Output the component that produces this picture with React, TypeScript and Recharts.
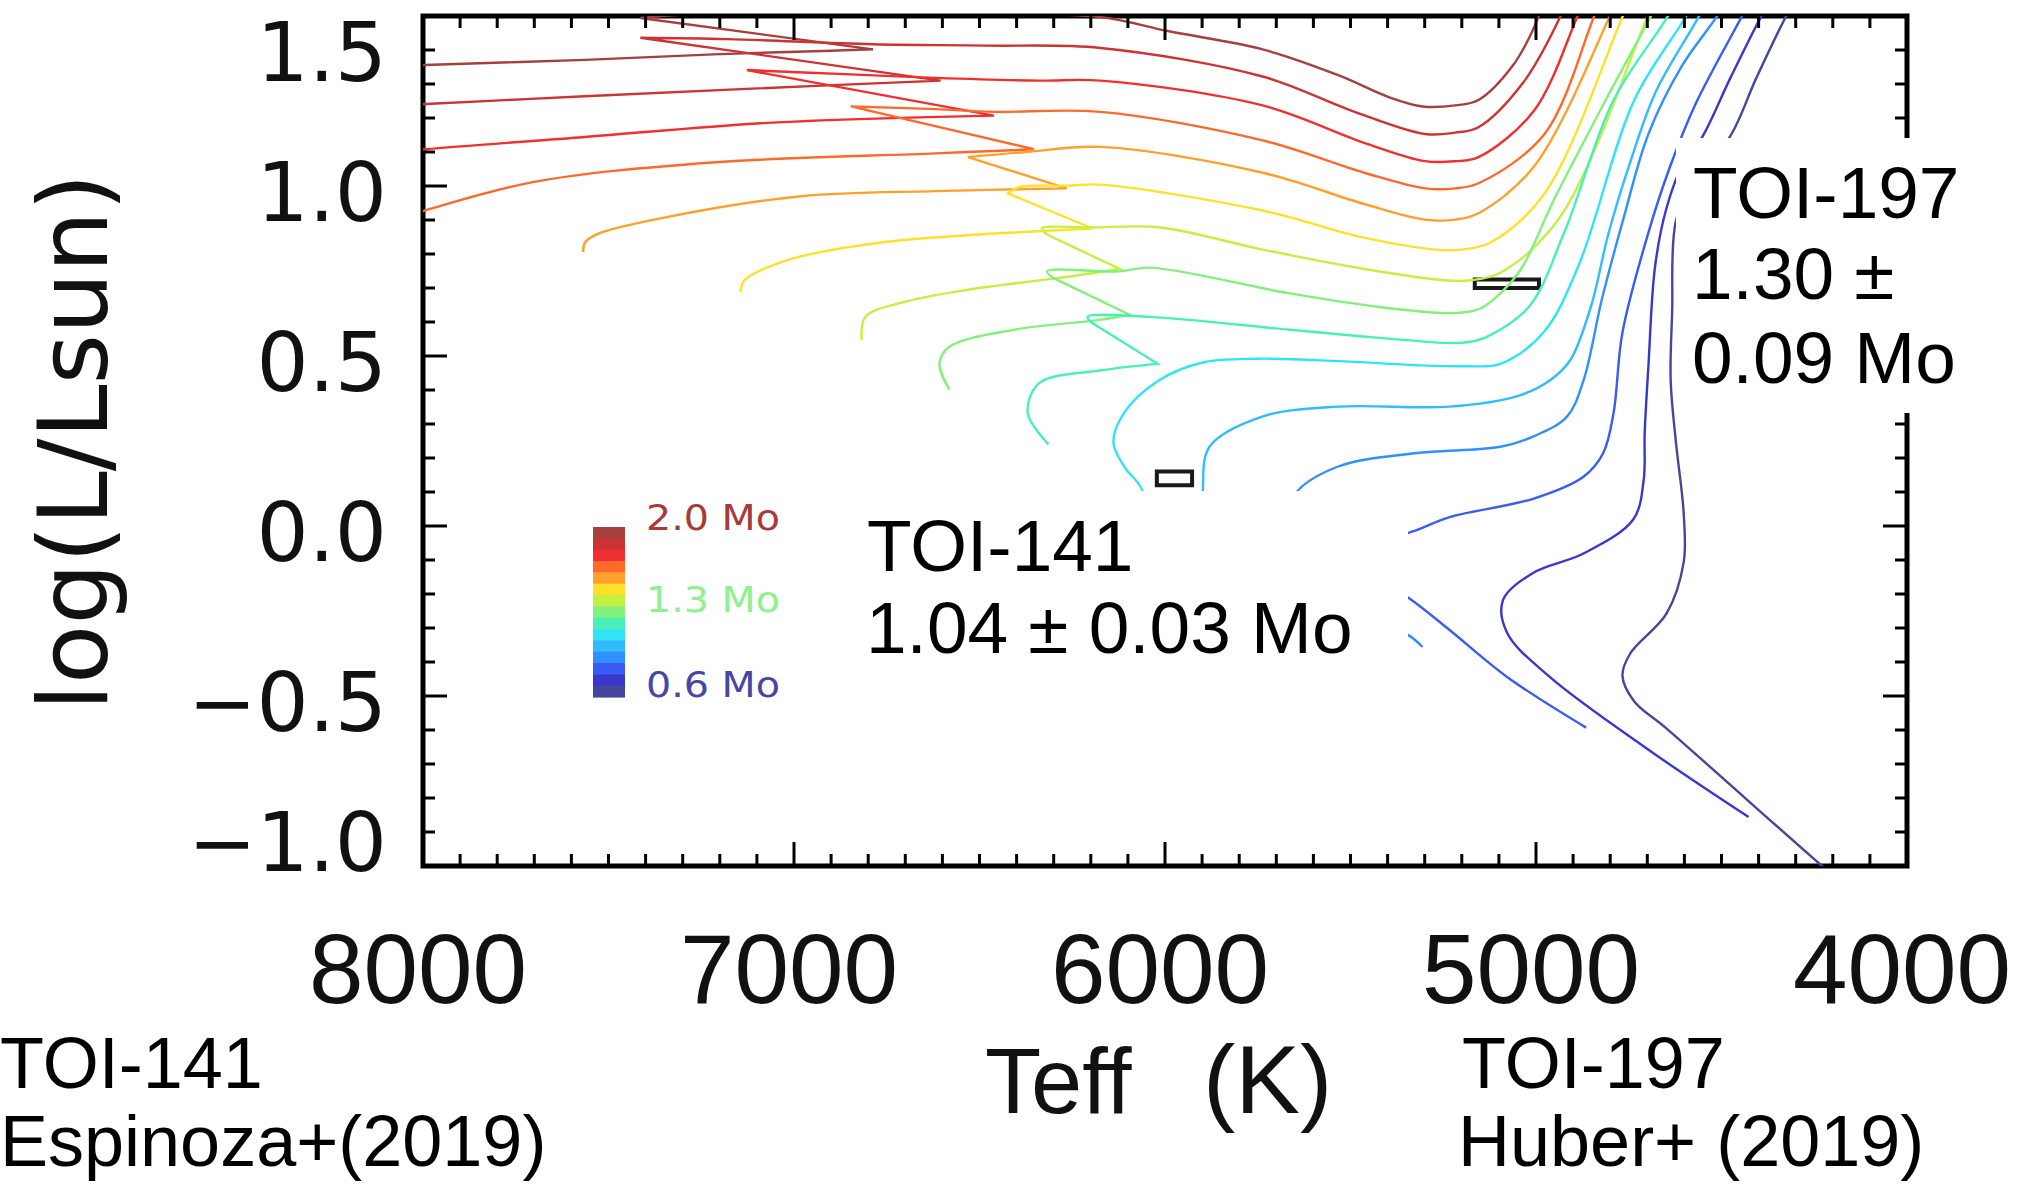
import React from "react";
import { LineChart, Line, XAxis, YAxis, ReferenceArea } from "recharts";

const W = 2037;
const H = 1185;
const PLOT_LEFT = 423;
const PLOT_RIGHT = 1907;
const PLOT_TOP = 16;
const PLOT_BOTTOM = 866;

const SANS = "Liberation Sans, Arial, sans-serif";
const IDL = "DejaVu Sans, sans-serif";

// stellar masses of the tracks (Msun), top of the colour bar first
const masses = [2.0, 1.9, 1.8, 1.7, 1.6, 1.5, 1.4, 1.3, 1.2, 1.1, 1.0, 0.9, 0.8, 0.7, 0.6];
const trackColors = [
  "#a5403f", "#cc3333", "#f03030", "#ff6a2c", "#ffa02c", "#ffe02a", "#c4f044", "#84f07c",
  "#48f0b8", "#30e4f4", "#30bcff", "#3090ff", "#3a5cf4", "#3838cc", "#46469c",
];

const xMajor = [8000, 7000, 6000, 5000, 4000];
const yMajor = [1.5, 1.0, 0.5, 0.0, -0.5, -1.0];
const xTicks: number[] = [];
for (let t = 4000; t <= 8000; t += 100) xTicks.push(t);
const yTicks: number[] = [];
for (let k = -10; k <= 15; k++) yTicks.push(k / 10);

// tracks as [Teff, log L/Lsun]; a repeated point marks a sharp turn
const track20 = [
  [8090, 1.352], [7995, 1.356], [7564, 1.371], [7218, 1.387], [6899, 1.398], [6787, 1.402], [6787, 1.402],
  [7414, 1.494], [7414, 1.494],
  [7319, 1.503], [7039, 1.508], [6479, 1.507], [6174, 1.497], [5989, 1.455], [5737, 1.402], [5533, 1.326],
  [5393, 1.26], [5306, 1.234], [5218, 1.237], [5155, 1.253], [5064, 1.352], [5005, 1.467], [4973, 1.566],
];
const track19 = [
  [8090, 1.237], [7992, 1.241], [7564, 1.264], [7099, 1.287], [6605, 1.31], [6605, 1.31],
  [7414, 1.436], [7414, 1.436],
  [7179, 1.432], [6787, 1.417], [6479, 1.413], [6174, 1.406], [5737, 1.322], [5498, 1.222], [5299, 1.153],
  [5218, 1.157], [5155, 1.173], [5036, 1.302], [4935, 1.497], [4910, 1.566],
];
const track18 = [
  [8090, 1.096], [7992, 1.108], [7564, 1.144], [7099, 1.184], [6759, 1.199], [6461, 1.207], [6461, 1.207],
  [7127, 1.341], [7127, 1.341],
  [6864, 1.329], [6619, 1.318], [6339, 1.31], [6174, 1.31], [5737, 1.237], [5463, 1.127], [5299, 1.073],
  [5218, 1.073], [5155, 1.085], [5005, 1.222], [4889, 1.497], [4861, 1.566],
];
const track17 = [
  [8090, 0.897], [7995, 0.928], [7701, 1.012], [7221, 1.069], [6619, 1.096], [6353, 1.108], [6353, 1.108],
  [6847, 1.234], [6847, 1.234],
  [6619, 1.226], [6461, 1.218], [6174, 1.218], [5737, 1.134], [5463, 1.039], [5299, 0.993], [5218, 0.993],
  [5155, 1.008], [4977, 1.153], [4844, 1.497], [4816, 1.566],
];
const track16 = [
  [7568, 0.806], [7564, 0.833], [7529, 0.859], [7340, 0.909], [6980, 0.97], [6619, 0.985], [6265, 0.993], [6265, 0.993],
  [6531, 1.085], [6531, 1.085],
  [6374, 1.1], [6174, 1.115], [5737, 1.039], [5463, 0.947], [5299, 0.901], [5218, 0.901], [5155, 0.92],
  [5005, 1.058], [4802, 1.497], [4774, 1.566],
];
const track15 = [
  [7144, 0.688], [7134, 0.722], [7015, 0.783], [6770, 0.833], [6531, 0.855], [6195, 0.875], [6195, 0.875],
  [6423, 0.978], [6423, 0.978],
  [6391, 0.997], [6265, 1.001], [6174, 1.004], [5737, 0.928], [5463, 0.848], [5271, 0.813], [5201, 0.813],
  [5124, 0.833], [4977, 0.978], [4767, 1.497], [4738, 1.566],
];
const track14 = [
  [6818, 0.546], [6808, 0.615], [6710, 0.657], [6531, 0.695], [6290, 0.729], [6122, 0.756], [6122, 0.756],
  [6314, 0.855], [6314, 0.855],
  [6332, 0.875], [6195, 0.878], [6013, 0.878], [5737, 0.813], [5463, 0.756], [5239, 0.722], [5183, 0.722],
  [5096, 0.745], [4935, 0.909], [4700, 1.497], [4672, 1.566],
];
const track13 = [
  [6581, 0.401], [6608, 0.477], [6581, 0.527], [6409, 0.577], [6171, 0.607], [6097, 0.622], [6097, 0.622],
  [6300, 0.729], [6300, 0.729],
  [6318, 0.749], [6122, 0.749], [6041, 0.76], [5663, 0.684], [5429, 0.645], [5236, 0.626], [5183, 0.63],
  [5141, 0.645], [5047, 0.745], [4952, 0.959], [4812, 1.253], [4690, 1.501], [4662, 1.566],
];
const track12 = [
  [6314, 0.24], [6370, 0.332], [6339, 0.42], [6171, 0.458], [6020, 0.477], [6020, 0.477],
  [6195, 0.596], [6195, 0.596],
  [6209, 0.615], [6041, 0.615], [5663, 0.577], [5429, 0.554], [5229, 0.538], [5176, 0.542], [5131, 0.557],
  [5019, 0.645], [4924, 0.863], [4791, 1.253], [4644, 1.501], [4616, 1.566],
];
const track11 = [
  [6041, -0.058], [6062, 0.107], [6108, 0.172], [6139, 0.244], [6111, 0.332], [6017, 0.428], [5898, 0.481],
  [5750, 0.492], [5533, 0.485], [5323, 0.473], [5190, 0.47], [5096, 0.477], [4980, 0.569], [4886, 0.764],
  [4735, 1.253], [4595, 1.501], [4567, 1.566],
];
const track10 = [
  [5849, -0.172], [5898, 0.019], [5898, 0.107], [5880, 0.233], [5740, 0.321], [5533, 0.351], [5233, 0.351],
  [5050, 0.382], [4963, 0.428], [4907, 0.489], [4851, 0.649], [4805, 0.859], [4746, 1.07], [4676, 1.28],
  [4560, 1.501], [4532, 1.566],
];
const track09 = [
  [5306, -0.356], [5344, -0.321], [5498, -0.249], [5639, -0.134], [5674, 0.019], [5646, 0.099], [5533, 0.175],
  [5327, 0.214], [5096, 0.233], [5008, 0.263], [4917, 0.321], [4872, 0.428], [4823, 0.664], [4763, 0.909],
  [4697, 1.153], [4605, 1.356], [4511, 1.501], [4476, 1.566],
];
const track08 = [
  [4865, -0.593], [5078, -0.444], [5233, -0.306], [5344, -0.211], [5463, -0.134], [5481, -0.077], [5429, -0.031],
  [5344, -0.02], [5233, 0.026], [5008, 0.08], [4872, 0.145], [4819, 0.214], [4791, 0.332], [4767, 0.569],
  [4697, 0.863], [4641, 1.05], [4570, 1.241], [4444, 1.501], [4413, 1.566],
];
const track07 = [
  [4427, -0.856], [4693, -0.661], [4963, -0.444], [5078, -0.314], [5089, -0.218], [5008, -0.138], [4872, -0.081],
  [4738, 0.019], [4710, 0.133], [4707, 0.275], [4697, 0.47], [4679, 0.764], [4648, 0.936], [4602, 1.07],
  [4553, 1.142], [4476, 1.318], [4392, 1.501], [4357, 1.566],
];
const track06 = [
  [4133, -1.089], [4227, -1.002], [4651, -0.593], [4735, -0.516], [4767, -0.44], [4746, -0.375], [4648, -0.257],
  [4602, -0.107], [4602, 0.038], [4623, 0.248], [4637, 0.428], [4633, 0.63], [4623, 0.897], [4570, 1.031],
  [4479, 1.142], [4406, 1.318], [4325, 1.501], [4290, 1.566],
];
const trackData = [
  track20, track19, track18, track17, track16, track15, track14, track13,
  track12, track11, track10, track09, track08, track07, track06,
];

// observed stars: Teff and log L ranges
const toi197Teff = [5165, 4992];
const toi197Lum = [0.7, 0.725];
const toi141Teff = [6022, 5927];
const toi141Lum = [0.12, 0.16];

const toPoints = (arr: number[][]) => arr.map(([t, l]) => ({ t, l }));

// centripetal Catmull-Rom through the points; a repeated point gives a corner
const smoothCurve = (context: any) => {
  let pts: number[][] = [];
  const dist = (a: number[], b: number[]) => Math.hypot(b[0] - a[0], b[1] - a[1]);
  return {
    areaStart() {},
    areaEnd() {},
    lineStart() {
      pts = [];
    },
    point(x: number, y: number) {
      pts.push([+x, +y]);
    },
    lineEnd() {
      const n = pts.length;
      if (!n) return;
      context.moveTo(pts[0][0], pts[0][1]);
      for (let i = 0; i < n - 1; i++) {
        const a = pts[i];
        const b = pts[i + 1];
        const d12 = dist(a, b);
        if (d12 < 1e-9) continue;
        const p = i > 0 ? pts[i - 1] : a;
        const q = i + 2 < n ? pts[i + 2] : b;
        const d01 = dist(p, a);
        const d23 = dist(b, q);
        const l01 = Math.sqrt(d01);
        const l12 = Math.sqrt(d12);
        const l23 = Math.sqrt(d23);
        let c1 = a;
        let c2 = b;
        if (l01 > 1e-6) {
          const A = 2 * d01 + 3 * l01 * l12 + d12;
          const N = 3 * l01 * (l01 + l12);
          c1 = [(a[0] * A - p[0] * d12 + b[0] * d01) / N, (a[1] * A - p[1] * d12 + b[1] * d01) / N];
        }
        if (l23 > 1e-6) {
          const B = 2 * d23 + 3 * l23 * l12 + d12;
          const M = 3 * l23 * (l23 + l12);
          c2 = [(b[0] * B + a[0] * d23 - q[0] * d12) / M, (b[1] * B + a[1] * d23 - q[1] * d12) / M];
        }
        context.bezierCurveTo(c1[0], c1[1], c2[0], c2[1], b[0], b[1]);
      }
    },
  };
};

const XTick = (props: any) => {
  const { x, payload } = props;
  const v = Math.round(payload.value);
  const major = xMajor.includes(v);
  const len = major ? 24 : 12;
  return (
    <g>
      <line x1={x} x2={x} y1={PLOT_BOTTOM} y2={PLOT_BOTTOM - len} stroke="#000" strokeWidth={3} />
      <line x1={x} x2={x} y1={PLOT_TOP} y2={PLOT_TOP + len} stroke="#000" strokeWidth={3} />
      {major && (
        <text x={x - 5} y={1003} textAnchor="middle" fontFamily={SANS} fontSize={98} fill="#111">
          {v}
        </text>
      )}
    </g>
  );
};

const YTick = (props: any) => {
  const { y, payload } = props;
  const v = payload.value;
  const k = Math.round(v * 10);
  const major = yMajor.some((m) => Math.abs(m - v) < 1e-6);
  const len = major ? 24 : 12;
  let dy = 6;
  if (k === 15) dy = 36;
  if (k === -10) dy = -24;
  const label = (k < 0 ? "\u2212" : "") + (Math.abs(k) / 10).toFixed(1);
  return (
    <g>
      <line x1={PLOT_LEFT} x2={PLOT_LEFT + len} y1={y} y2={y} stroke="#000" strokeWidth={3} />
      <line x1={PLOT_RIGHT} x2={PLOT_RIGHT - len} y1={y} y2={y} stroke="#000" strokeWidth={3} />
      {major && (
        <text x={387} y={y + dy} textAnchor="end" dominantBaseline="central" fontFamily={IDL} fontSize={82} fill="#111">
          {label}
        </text>
      )}
    </g>
  );
};

const barTop = 527;
const barBottom = 697;
const bandH = (barBottom - barTop) / masses.length;

const legendLabels = [
  { text: "2.0 Mo", y: 530, color: "#a83a3a" },
  { text: "1.3 Mo", y: 612, color: "#8ef08e" },
  { text: "0.6 Mo", y: 697, color: "#4646a6" },
];

const App = () => {
  return (
    <div style={{ position: "absolute", left: 0, top: 0, width: W, height: H, background: "#fff", overflow: "hidden" }}>
      <LineChart width={W} height={H} margin={{ top: PLOT_TOP, right: W - PLOT_RIGHT, bottom: 0, left: 0 }}>
        <XAxis
          type="number"
          dataKey="t"
          domain={[4000, 8000]}
          reversed
          allowDataOverflow
          ticks={xTicks}
          interval={0}
          tick={<XTick />}
          tickLine={false}
          axisLine={false}
          height={H - PLOT_BOTTOM}
        />
        <YAxis
          type="number"
          dataKey="l"
          domain={[-1, 1.5]}
          allowDataOverflow
          ticks={yTicks}
          interval={0}
          tick={<YTick />}
          tickLine={false}
          axisLine={false}
          width={PLOT_LEFT}
        />
        {masses.map((m, i) => (
          <Line
            key={m}
            data={toPoints(trackData[i])}
            dataKey="l"
            type={smoothCurve as any}
            stroke={trackColors[i]}
            strokeWidth={2.4}
            dot={false}
            activeDot={false}
            isAnimationActive={false}
          />
        ))}
        <ReferenceArea
          x1={toi197Teff[0]}
          x2={toi197Teff[1]}
          y1={toi197Lum[0]}
          y2={toi197Lum[1]}
          fill="#fff"
          fillOpacity={1}
          stroke="#1a1a1a"
          strokeWidth={4}
        />
        <ReferenceArea
          x1={toi141Teff[0]}
          x2={toi141Teff[1]}
          y1={toi141Lum[0]}
          y2={toi141Lum[1]}
          fill="#fff"
          fillOpacity={1}
          stroke="#1a1a1a"
          strokeWidth={4}
        />
        <ReferenceArea x1={8000} x2={4000} y1={-1} y2={1.5} fill="none" stroke="#000" strokeWidth={5} />
      </LineChart>

      <svg width={W} height={H} style={{ position: "absolute", left: 0, top: 0 }}>
        <rect x={1676} y={138} width={W - 1676} height={275} fill="#fff" />
        <rect x={850} y={491} width={558} height={180} fill="#fff" />

        <g fontFamily={SANS} fontSize={73} fill="#000">
          <text x={1693} y={218}>TOI-197</text>
          <text x={1692} y={299}>1.30 ±</text>
          <text x={1692} y={383}>0.09 Mo</text>
          <text x={867} y={571}>TOI-141</text>
          <text x={866} y={653}>1.04 ± 0.03 Mo</text>
        </g>

        <g fontFamily={SANS} fontSize={72} fill="#000">
          <text x={0} y={1088}>TOI-141</text>
          <text x={0} y={1166}>Espinoza+(2019)</text>
          <text x={1462} y={1088}>TOI-197</text>
          <text x={1458} y={1166}>Huber+ (2019)</text>
        </g>

        <text x={985} y={1113} fontFamily={SANS} fontSize={92} fill="#111">
          Teff
        </text>
        <text x={1203} y={1113} fontFamily={SANS} fontSize={97} fill="#111">
          (K)
        </text>
        <text
          x={73}
          y={442}
          transform="rotate(-90 73 442)"
          textAnchor="middle"
          dominantBaseline="central"
          fontFamily={IDL}
          fontSize={97}
          fill="#111"
        >
          log(L/Lsun)
        </text>

        {masses.map((m, i) => (
          <rect key={m} x={593} y={barTop + i * bandH} width={32} height={bandH + 0.6} fill={trackColors[i]} />
        ))}
        {legendLabels.map((lb) => (
          <text
            key={lb.text}
            transform={`translate(646 ${lb.y}) scale(1.1 1)`}
            fontFamily={IDL}
            fontSize={36}
            fill={lb.color}
          >
            {lb.text}
          </text>
        ))}
      </svg>
    </div>
  );
};

export default App;
